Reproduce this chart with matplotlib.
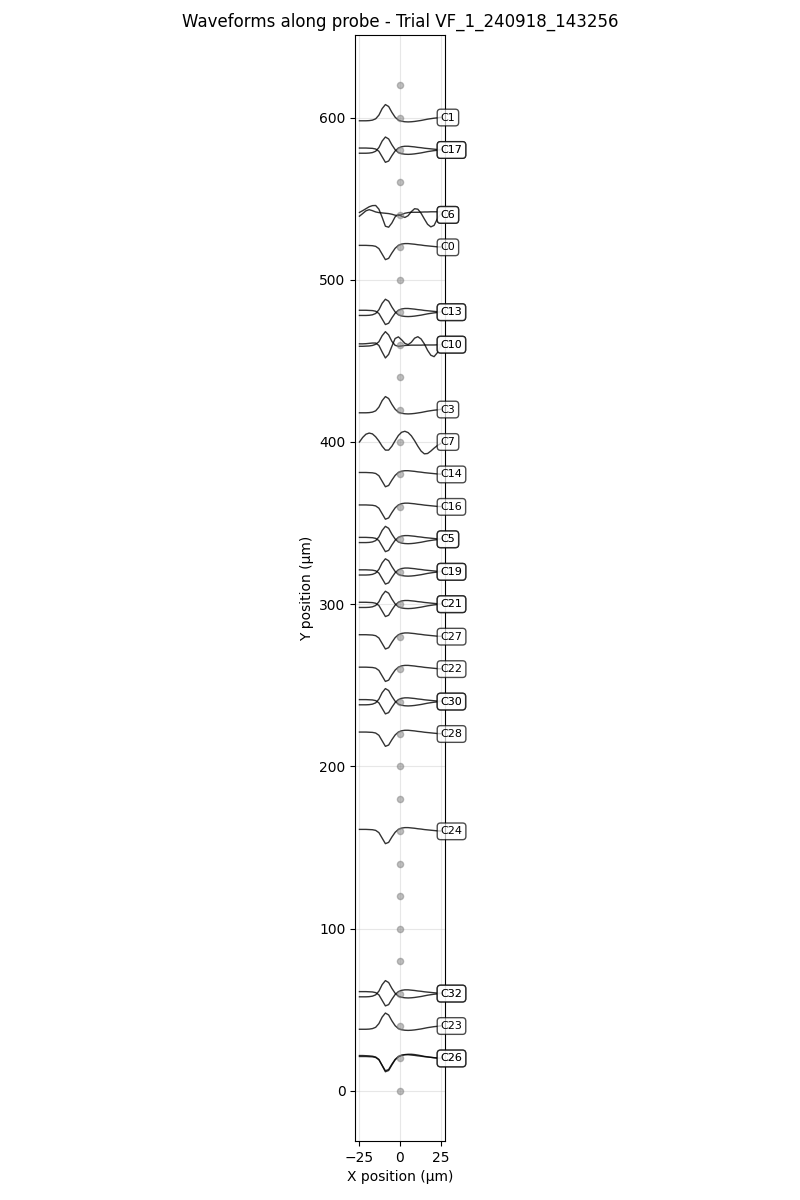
import matplotlib.pyplot as plt

# Sample positions of the waveform (x, µm)
WAVE_X = [-25, -23, -21, -19, -17, -15, -13, -11, -9, -7, -5, -3, -1,
          1, 3, 5, 7, 9, 11, 13, 15, 17, 19, 21, 23, 25]

# Waveform shapes (µm offset from channel y)
PEAK_WAVE = [-2.0, -2.0, -2.0, -1.9, -1.6, -0.8, 1.5, 5.5, 8.0, 6.8, 3.2, 0.2, -1.6,
             -2.3, -2.6, -2.7, -2.6, -2.4, -2.1, -1.8, -1.4, -1.0, -0.7, -0.4, -0.2, 0.1]
TROUGH_WAVE = [1.2, 1.2, 1.2, 1.1, 1.0, 0.6, -0.8, -4.2, -7.6, -6.8, -3.5, -0.6, 1.2,
               2.0, 2.3, 2.3, 2.1, 1.9, 1.6, 1.4, 1.1, 0.9, 0.7, 0.5, 0.3, 0.2]
TROUGH_WAVE_B = [1.8, 1.8, 1.7, 1.6, 1.4, 0.9, -0.6, -4.4, -8.2, -7.4, -4.0, -0.8, 1.0,
                 1.9, 2.4, 2.6, 2.6, 2.4, 2.1, 1.7, 1.3, 1.0, 0.7, 0.4, 0.2, 0.0]
C7_WAVE = [0.0, 2.8, 4.8, 5.5, 5.0, 3.2, 0.6, -2.6, -5.0, -5.0, -2.6, 0.8, 4.0,
           6.0, 6.6, 5.8, 3.8, 0.8, -2.6, -5.6, -7.3, -7.1, -5.6, -3.8, -2.2, -1.0]
C6_MAIN = [1.5, 2.6, 3.8, 5.0, 5.7, 5.8, 3.5, -1.5, -7.0, -7.6, -5.0, -1.2, 0.2,
           -0.8, -1.6, -0.5, 2.0, 3.8, 3.5, 1.0, -2.5, -5.8, -7.4, -6.5, -2.5, 0.5]
C6_MINOR = [-0.8, 0.8, 2.5, 3.2, 2.6, 1.8, 1.4, 1.2, 1.0, 0.8, 0.4, -0.2, -0.4,
            0.2, 1.0, 1.4, 1.6, 1.6, 1.6, 1.7, 1.8, 1.8, 1.9, 1.9, 1.9, 1.9]
C10_MAIN = [0.5, 0.5, 0.6, 0.8, 1.0, 1.0, -0.5, -4.5, -8.2, -6.0, -1.0, 3.8, 4.8,
            3.0, 0.8, 0.0, 1.5, 4.0, 4.9, 3.5, 0.5, -3.5, -6.5, -7.4, -5.0, -1.0]
C10_MINOR = [-1.0, -1.0, -0.9, -0.8, -0.5, 0.2, 1.8, 5.5, 8.0, 6.0, 2.0, -0.4, -1.0,
             -0.8, -0.5, -0.4, -0.3, -0.3, -0.3, -0.3, -0.2, -0.2, -0.2, -0.2, -0.1, -0.1]

SHAPES = {
    "peak": PEAK_WAVE,
    "trough": TROUGH_WAVE,
    "trough_b": TROUGH_WAVE_B,
    "c7": C7_WAVE,
    "c6_main": C6_MAIN,
    "c6_minor": C6_MINOR,
    "c10_main": C10_MAIN,
    "c10_minor": C10_MINOR,
}

# Probe sites (y, µm)
SITE_Y = [0, 20, 40, 60, 80, 100, 120, 140, 160, 180, 200, 220, 240, 260, 280, 300,
          320, 340, 360, 380, 400, 420, 440, 460, 480, 500, 520, 540, 560, 580, 600, 620]

# One entry per unit: channel label, channel y, waveform shape
UNIT_CHANNEL = ["C1", "C17", "C17", "C6", "C6", "C0", "C13", "C13", "C10", "C10",
                "C3", "C7", "C14", "C16", "C5", "C5", "C19", "C19", "C21", "C21",
                "C27", "C22", "C30", "C30", "C28", "C24", "C32", "C32", "C23", "C26", "C26"]
UNIT_Y = [600, 580, 580, 540, 540, 520, 480, 480, 460, 460,
          420, 400, 380, 360, 340, 340, 320, 320, 300, 300,
          280, 260, 240, 240, 220, 160, 60, 60, 40, 20, 20]
UNIT_SHAPE = ["peak", "peak", "trough", "c6_main", "c6_minor", "trough", "peak", "trough",
              "c10_minor", "c10_main", "peak", "c7", "trough", "trough", "peak", "trough",
              "peak", "trough", "peak", "trough", "trough", "trough", "peak", "trough",
              "trough", "trough", "peak", "trough", "peak", "trough", "trough_b"]

fig, ax = plt.subplots(figsize=(8, 12), dpi=100)

ax.scatter([0] * len(SITE_Y), SITE_Y, s=20, color="gray", alpha=0.5, zorder=3)

for ch, y, shape in zip(UNIT_CHANNEL, UNIT_Y, UNIT_SHAPE):
    wave = SHAPES[shape]
    ax.plot(WAVE_X, [y + v for v in wave], color="k", alpha=0.8, linewidth=1)
    ax.text(25, y, ch, fontsize=8, ha="left", va="center",
            bbox=dict(boxstyle="round,pad=0.3", facecolor="white", edgecolor="black", alpha=0.7))

ax.set_aspect("equal")
ax.grid(True, alpha=0.3)
ax.set_xlabel("X position (µm)")
ax.set_ylabel("Y position (µm)")
ax.set_title("Waveforms along probe - Trial VF_1_240918_143256")

fig.subplots_adjust(left=0.1, right=0.9, top=0.971, bottom=0.049)
plt.savefig("out.png", dpi=100)
plt.close()
